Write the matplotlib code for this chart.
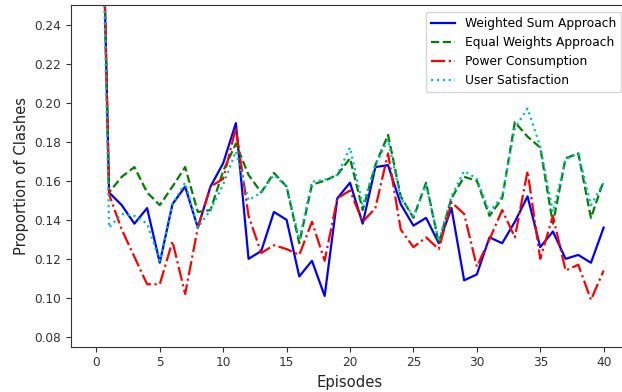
import numpy as np
import matplotlib
matplotlib.use("Agg")
import matplotlib.pyplot as plt

episodes = np.arange(41)

weighted_sum = [0.45, 0.154, 0.1475, 0.138, 0.146, 0.118, 0.148, 0.157, 0.136, 0.157,
                0.169, 0.1895, 0.120, 0.124, 0.144, 0.140, 0.111, 0.119, 0.101, 0.151,
                0.159, 0.138, 0.167, 0.168, 0.148, 0.137, 0.141, 0.128, 0.146, 0.109,
                0.112, 0.131, 0.128, 0.139, 0.152, 0.126, 0.134, 0.120, 0.122, 0.118,
                0.136]
equal_weights = [0.45, 0.154, 0.162, 0.167, 0.154, 0.1475, 0.157, 0.167, 0.144, 0.145,
                 0.165, 0.179, 0.163, 0.154, 0.164, 0.157, 0.128, 0.158, 0.160, 0.163,
                 0.1715, 0.145, 0.168, 0.1835, 0.152, 0.141, 0.159, 0.128, 0.151, 0.162,
                 0.160, 0.142, 0.151, 0.190, 0.1826, 0.177, 0.138, 0.1715, 0.174, 0.141,
                 0.160]
power = [0.45, 0.153, 0.135, 0.121, 0.107, 0.107, 0.129, 0.102, 0.136, 0.157,
         0.161, 0.187, 0.142, 0.123, 0.127, 0.125, 0.122, 0.139, 0.119, 0.151,
         0.155, 0.139, 0.146, 0.174, 0.135, 0.126, 0.131, 0.125, 0.149, 0.143,
         0.116, 0.130, 0.145, 0.131, 0.165, 0.120, 0.142, 0.114, 0.117, 0.099,
         0.114]
satisfaction = [0.45, 0.136, 0.143, 0.142, 0.138, 0.119, 0.148, 0.159, 0.136, 0.145,
                0.158, 0.175, 0.150, 0.154, 0.163, 0.157, 0.130, 0.1595, 0.1605, 0.163,
                0.177, 0.1475, 0.168, 0.181, 0.151, 0.142, 0.158, 0.129, 0.152, 0.165,
                0.161, 0.144, 0.152, 0.187, 0.197, 0.1775, 0.144, 0.171, 0.174, 0.1475,
                0.159]

fig = plt.figure(figsize=(6.22, 3.92), dpi=100)
ax = fig.add_axes([71 / 622, 45.3 / 392, 558 / 622, 341.7 / 392])

lw = 1.6
ax.plot(episodes, weighted_sum, 'b-', lw=lw, label='Weighted Sum Approach')
ax.plot(episodes, equal_weights, 'g--', lw=lw, label='Equal Weights Approach')
ax.plot(episodes, power, 'r-.', lw=lw, label='Power Consumption')
ax.plot(episodes, satisfaction, 'c:', lw=lw, label='User Satisfaction')

ax.set_xlim(-2, 42)
ax.set_ylim(0.075, 0.25)
ax.set_xticks(range(0, 41, 5))
ax.set_yticks(np.arange(0.08, 0.25, 0.02))
ax.tick_params(labelsize=8.7, colors='#333333')
for s in ax.spines.values():
    s.set_color('#333333')
ax.set_xlabel('Episodes', fontsize=10.6, color='#222222')
ax.set_ylabel('Proportion of Clashes', fontsize=10.6, color='#222222')

ax.legend(loc='upper right', bbox_to_anchor=(621 / 622, 380 / 392),
          bbox_transform=fig.transFigure, borderaxespad=0, fontsize=8.8)

fig.savefig('out.png', dpi=100)
